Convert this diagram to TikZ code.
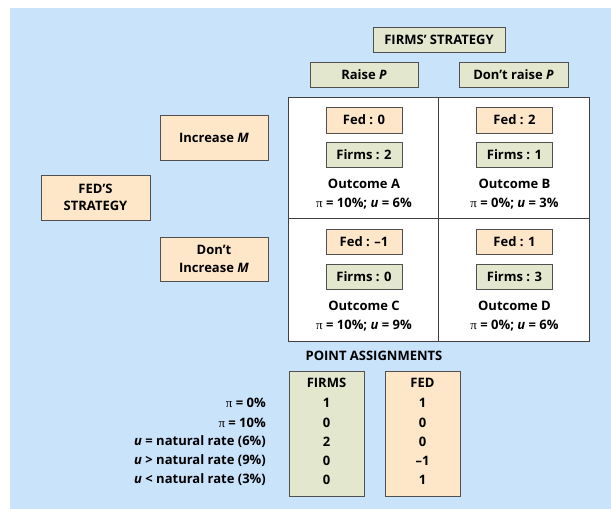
\documentclass[tikz,border=0pt]{standalone}
\usepackage{fontspec}
\setmainfont{Open Sans}
\newfontfamily\pifamily{Liberation Serif}
\newcommand{\mypi}{{\pifamily\mdseries\upshape π}}
\definecolor{bgblue}{HTML}{C8E3FA}
\definecolor{peach}{HTML}{FDE7C8}
\definecolor{sage}{HTML}{E3E7CD}
\definecolor{edgegray}{HTML}{505050}
\begin{document}
\begin{tikzpicture}[x=1pt,y=-1pt,
  font=\fontsize{13}{17.5}\selectfont\bfseries,
  box/.style={draw=edgegray, line width=1pt, inner sep=0pt, align=center},
  fedbox/.style={box, fill=peach},
  firmbox/.style={box, fill=sage},
  cell/.style={draw=black!75, fill=white, line width=1pt, inner sep=0pt, minimum width=151pt},
  txt/.style={inner sep=0pt, align=center},
  lbl/.style={inner sep=0pt, anchor=east}
]
\useasboundingbox (0,0) rectangle (611,509);
\fill[bgblue] (10,8) rectangle (611,509);

% Firms' strategy
\node[firmbox, minimum width=132pt, minimum height=25pt] (fs) at (439,40) {FIRMS’ STRATEGY};
\node[firmbox, minimum width=108pt, minimum height=25pt] (rp) at (364,75) {Raise \textit{P}};
\node[firmbox, minimum width=109pt, minimum height=25pt] (drp) at (513.5,75) {Don’t raise \textit{P}};

% Fed's strategy
\node[fedbox, minimum width=109pt, minimum height=45pt] (fds) at (95.5,197.5) {FED’S\\STRATEGY};
\node[fedbox, minimum width=108pt, minimum height=45pt] (im) at (214,137.5) {Increase \textit{M}};
\node[fedbox, minimum width=108pt, minimum height=44pt] (dim) at (214,259) {Don’t\\Increase \textit{M}};

% Payoff matrix cells
\node[cell, minimum height=121pt] (cA) at (363.5,157.5) {};
\node[cell, minimum height=121pt] (cB) at (514,157.5) {};
\node[cell, minimum height=123pt] (cC) at (363.5,279.5) {};
\node[cell, minimum height=123pt] (cD) at (514,279.5) {};

% Cell A
\node[fedbox, minimum width=76pt, minimum height=26pt] (fA) at (364,120) {Fed : 0};
\node[firmbox, minimum width=76pt, minimum height=25pt] (gA) at (364,155) {Firms : 2};
\node[txt] (oA) at (364,184) {Outcome A};
\node[txt] (pA) at (364,204) {\mypi{} = 10\%; \textit{u} = 6\%};
% Cell B
\node[fedbox, minimum width=76pt, minimum height=26pt] (fB) at (514.5,120) {Fed : 2};
\node[firmbox, minimum width=76pt, minimum height=25pt] (gB) at (514.5,155) {Firms : 1};
\node[txt] (oB) at (514.5,184) {Outcome B};
\node[txt] (pB) at (514.5,204) {\mypi{} = 0\%; \textit{u} = 3\%};
% Cell C
\node[fedbox, minimum width=76pt, minimum height=25pt] (fC) at (364,241.5) {Fed : –1};
\node[firmbox, minimum width=76pt, minimum height=25pt] (gC) at (364,276.5) {Firms : 0};
\node[txt] (oC) at (364,306) {Outcome C};
\node[txt] (pC) at (364,326) {\mypi{} = 10\%; \textit{u} = 9\%};
% Cell D
\node[fedbox, minimum width=76pt, minimum height=25pt] (fD) at (514.5,241.5) {Fed : 1};
\node[firmbox, minimum width=76pt, minimum height=25pt] (gD) at (514.5,276.5) {Firms : 3};
\node[txt] (oD) at (514.5,306) {Outcome D};
\node[txt] (pD) at (514.5,326) {\mypi{} = 0\%; \textit{u} = 6\%};

% Point assignments
\node[txt] (pa) at (374,356) {POINT ASSIGNMENTS};
\node[firmbox, minimum width=75pt, minimum height=125pt] (colF) at (326.5,433.5) {};
\node[fedbox, minimum width=75pt, minimum height=125pt] (colD) at (422.5,433.5) {};
\node[txt] (hF) at (326.5,383) {FIRMS};
\node[txt] (hD) at (422.5,383) {FED};

\node[lbl] (l1) at (266,403) {\mypi{} = 0\%};
\node[lbl] (l2) at (266,423) {\mypi{} = 10\%};
\node[lbl] (l3) at (266,442) {\textit{u} = natural rate (6\%)};
\node[lbl] (l4) at (266,461) {\textit{u} > natural rate (9\%)};
\node[lbl] (l5) at (266,480) {\textit{u} < natural rate (3\%)};

\node[txt] (f1) at (326.5,403) {1};
\node[txt] (f2) at (326.5,423) {0};
\node[txt] (f3) at (326.5,442) {2};
\node[txt] (f4) at (326.5,461) {0};
\node[txt] (f5) at (326.5,480) {0};

\node[txt] (d1) at (422.5,403) {1};
\node[txt] (d2) at (422.5,423) {0};
\node[txt] (d3) at (422.5,442) {0};
\node[txt] (d4) at (422.5,461) {–1};
\node[txt] (d5) at (422.5,480) {1};
\end{tikzpicture}
\end{document}
